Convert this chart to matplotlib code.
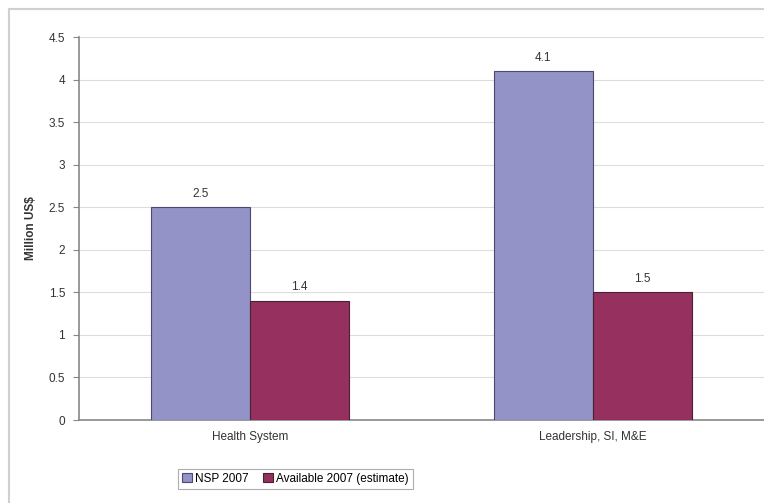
import numpy as np
import matplotlib.pyplot as plt
from matplotlib.patches import Rectangle

# data
categories = ['Health System', 'Leadership, SI, M&E']
nsp_2007 = [2.5, 4.1]
available_2007 = [1.4, 1.5]
series_names = ['NSP 2007', 'Available 2007 (estimate)']
yticks = [0, 0.5, 1, 1.5, 2, 2.5, 3, 3.5, 4, 4.5]

plt.rcParams['font.family'] = ['Liberation Sans', 'DejaVu Sans']

fig = plt.figure(figsize=(7.64, 5.03), dpi=100)
ax = fig.add_axes([0.1034, 0.165, 0.8966, 0.761])

# chart frame
fig.patches.append(Rectangle((9 / 764, -0.1), 1.2, 1 - 9 / 503 + 0.1, transform=fig.transFigure,
                             fill=False, edgecolor='#d0d0d0', lw=1.5, zorder=0))

x = np.arange(len(categories))
w = 0.289
b1 = ax.bar(x - w / 2, nsp_2007, w, color='#9393c8', edgecolor='#4a4a70', lw=0.8,
            label=series_names[0], zorder=3)
b2 = ax.bar(x + w / 2, available_2007, w, color='#96305f', edgecolor='#4a2035', lw=0.8,
            label=series_names[1], zorder=3)

for bars in (b1, b2):
    for r in bars:
        h = r.get_height()
        ax.text(r.get_x() + r.get_width() / 2, h + 0.09, f'{h:g}', ha='center', va='bottom',
                fontsize=8.5, color='#333333')

ax.set_xlim(-0.5, 1.5)
ax.set_ylim(0, 4.5)
ax.set_yticks(yticks)
ax.set_yticklabels([f'{t:g}' for t in yticks], fontsize=8.5, color='#333333')
ax.set_xticks(x)
ax.set_xticklabels(categories, fontsize=8.5, color='#333333')
ax.tick_params(axis='x', length=0, pad=8)
ax.tick_params(axis='y', length=4, color='#888888', pad=6)
ax.yaxis.grid(True, color='#dcdcdc', lw=0.8, zorder=0)
ax.set_axisbelow(True)
for s in ('top', 'right'):
    ax.spines[s].set_visible(False)
for s in ('left', 'bottom'):
    ax.spines[s].set_color('#888888')
    ax.spines[s].set_linewidth(1.2)
ax.set_ylabel('Million US$', fontsize=8.5, fontweight='bold', color='#333333', labelpad=8)

leg = fig.legend(loc='center', bbox_to_anchor=(0.387, 0.0477), ncol=2, fontsize=8.5,
                 frameon=True, fancybox=False, edgecolor='#999999', handlelength=0.8,
                 handleheight=0.8, handletextpad=0.3, columnspacing=1.2, borderpad=0.35)
leg.get_frame().set_linewidth(0.8)

fig.savefig('out.png', dpi=100)
